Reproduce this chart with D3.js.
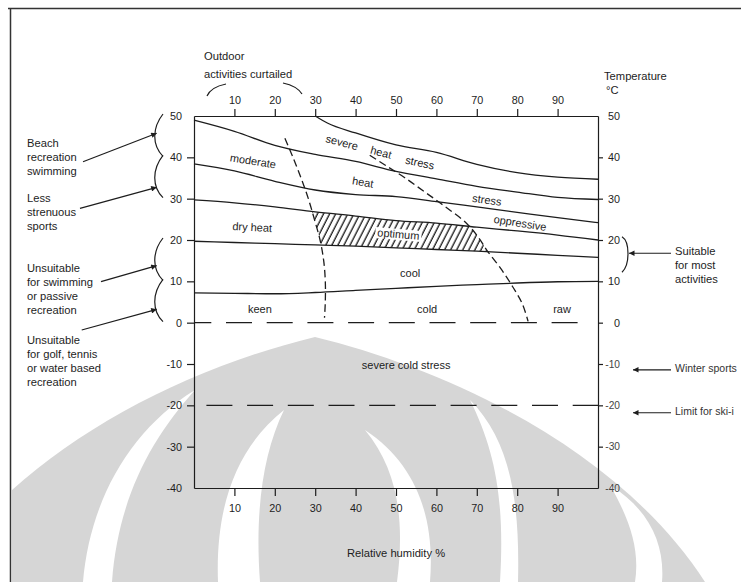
<!DOCTYPE html>
<html>
<head>
<meta charset="utf-8">
<script src="https://cdn.jsdelivr.net/npm/d3@7"></script>
<style>
  html, body { margin: 0; padding: 0; background: #fff; }
  svg { display: block; font-family: "Liberation Sans", Arial, Helvetica, sans-serif; }
</style>
</head>
<body>
<svg id="chart" width="741" height="582"></svg>
<script>
// Bioclimatic chart: relative humidity (%) against air temperature (°C)

const humidityTicks = [10, 20, 30, 40, 50, 60, 70, 80, 90];
const temperatureTicks = [-40, -30, -20, -10, 0, 10, 20, 30, 40, 50];

// Zone boundaries, each point is [relative humidity %, temperature °C]
const severeHeatLower = [[30, 50], [33, 48.3], [40, 45.9], [50, 43.0], [60, 41.2], [70, 38.3], [80, 36.3], [90, 35.2], [100, 34.7]];
const heatUpper = [[0, 49], [10, 46.3], [20, 42.9], [30, 40.7], [40, 39.0], [50, 36.6], [60, 34.8], [70, 33.0], [80, 31.6], [90, 30.3], [100, 29.8]];
const heatLower = [[0, 38.4], [10, 36.7], [20, 34.2], [30, 32.1], [40, 31.0], [50, 30.5], [60, 29.3], [70, 28.0], [80, 26.7], [90, 25.4], [100, 24.2]];
const optimumUpper = [[0, 29.7], [10, 29.0], [20, 28.0], [30, 26.8], [40, 25.8], [50, 24.7], [60, 24.1], [70, 23.1], [80, 22.2], [90, 21.2], [100, 20.0]];
const optimumLower = [[0, 19.7], [10, 19.4], [20, 19.1], [30, 18.8], [40, 18.5], [50, 18.1], [60, 17.7], [70, 17.3], [80, 16.8], [90, 16.3], [100, 15.8]];
const coldUpper = [[0, 7.2], [10, 7.1], [20, 7.0], [30, 7.3], [40, 7.8], [50, 8.3], [60, 8.8], [70, 9.2], [80, 9.6], [90, 9.9], [100, 10.0]];

// Dashed limits: outdoor activities curtailed (dry side) and discomfort (humid side)
const curtailedLimit = [[22.5, 44.6], [24.5, 40], [26.5, 35], [28.3, 30], [29.8, 25], [31.2, 20], [32.1, 15], [32.5, 10], [32.5, 5], [32.3, 1.2]];
const humidLimit = [[43.5, 40.5], [47.5, 38], [52, 35.2], [57, 31.7], [62, 28.2], [67.5, 24], [70.5, 20.5], [72.5, 17.5], [76, 13], [79, 8.5], [81.3, 4.5], [82.7, 0.3]];

// Horizontal dashed thresholds (°C)
const freezingLine = { t: 0, from: 0, to: 95.3 };
const skiLimitLine = { t: -20, from: 0, to: 100 };

// Zone names: [text, humidity %, temperature °C, rotation°]
const zoneLabels = [
  ["moderate", 14.6, 39.1, 9],
  ["heat", 41.8, 34.0, 9],
  ["severe", 36.6, 43.6, 15],
  ["heat", 46.3, 41.2, 15],
  ["stress", 55.9, 38.7, 12],
  ["dry heat", 14.4, 23.1, 3],
  ["stress", 72.5, 29.7, 8],
  ["oppressive", 80.7, 24.1, 9],
  ["cool", 53.5, 12.0, 0],
  ["keen", 16.3, 3.2, 0],
  ["cold", 57.7, 3.2, 0],
  ["raw", 91.1, 3.2, 0],
  ["severe cold stress", 52.5, -10.2, 0]
];
const optimumLabel = ["optimum", 50.6, 21.4, 5];

// Activity notes on the left, each bracketing a temperature range
const leftNotes = [
  { lines: ["Beach", "recreation", "swimming"], range: [50, 40] },
  { lines: ["Less", "strenuous", "sports"], range: [40, 30] },
  { lines: ["Unsuitable", "for swimming", "or passive", "recreation"], range: [20, 10] },
  { lines: ["Unsuitable", "for golf, tennis", "or  water based", "recreation"], range: [10, 0] }
];
// the last note runs off the page edge
const rightNotes = [
  { lines: ["Suitable", "for most", "activities"], t: 16.8 },
  { lines: ["Winter sports"], t: -11.4 },
  { lines: ["Limit for ski-i"], t: -21.8 }
];

const ink = "#1d1d1d";
const font = '"Liberation Sans", Arial, Helvetica, sans-serif';
const textSize = 11.2;

const x = d3.scaleLinear().domain([0, 100]).range([194, 598]);
const y = d3.scaleLinear().domain([-40, 50]).range([488, 116]);

const svg = d3.select("#chart");
const defs = svg.append("defs");

// ---- faint emblem in the background ----
const emblem = svg.append("g").attr("class", "emblem");
emblem.append("path")
  .attr("d", "M12,582 L12,490 C90,420 200,365 315,337 C450,370 620,450 705,582 Z")
  .attr("fill", "#d6d6d6");
[
  "M83,582 C90,500 130,430 195,390 C150,440 118,500 112,582 Z",
  "M218,582 C215,500 240,445 284,410 C262,455 255,515 260,582 Z",
  "M397,582 C405,520 398,470 365,430 C418,465 435,520 430,582 Z",
  "M500,582 C505,500 495,450 470,400 C510,440 520,500 518,582 Z",
  "M635,582 C640,550 630,520 610,485 C650,510 665,545 662,582 Z"
].forEach(d => emblem.append("path").attr("d", d).attr("fill", "#fff"));

// ---- page frame ----
svg.append("path").attr("d", "M8,8.5 H741").attr("stroke", "#333").attr("stroke-width", 1.5);
svg.append("path").attr("d", "M10.5,8 V582").attr("stroke", "#333").attr("stroke-width", 1.5);

// ---- axes ----
function styleAxis(g, size) {
  g.attr("font-family", font).attr("font-size", size || 10.8);
  g.selectAll("path, line").attr("stroke", ink).attr("stroke-width", 1.2);
  g.selectAll("text").attr("fill", ink);
}
const fmt = d => String(d);

const topAxis = svg.append("g").attr("transform", `translate(0,${y(50)})`)
  .call(d3.axisTop(x).tickValues(humidityTicks).tickSize(7).tickPadding(5).tickSizeOuter(0).tickFormat(fmt));
styleAxis(topAxis);

const bottomAxis = svg.append("g").attr("transform", `translate(0,${y(-40)})`)
  .call(d3.axisBottom(x).tickValues(humidityTicks).tickSize(8).tickPadding(8).tickSizeOuter(0).tickFormat(fmt));
styleAxis(bottomAxis);

const leftAxis = svg.append("g").attr("transform", `translate(${x(0)},0)`)
  .call(d3.axisLeft(y).tickValues(temperatureTicks).tickSize(7).tickPadding(5).tickSizeOuter(0).tickFormat(fmt));
styleAxis(leftAxis);
leftAxis.selectAll(".tick").filter(d => d === 50 || d === -40).select("line").remove();

const rightAxis = svg.append("g").attr("transform", `translate(${x(100)},0)`)
  .call(d3.axisRight(y).tickValues(temperatureTicks).tickSize(5).tickPadding(5).tickSizeOuter(0).tickFormat(fmt));
styleAxis(rightAxis);
rightAxis.selectAll(".tick").filter(d => d === 50 || d === -40).select("line").remove();
rightAxis.selectAll(".tick text").attr("x", 22).attr("text-anchor", "end");
rightAxis.selectAll(".tick").filter(d => d < 0).select("text").attr("fill", "#444").attr("font-size", 10.2);

// ---- zone boundaries ----
const smooth = d3.line().x(d => x(d[0])).y(d => y(d[1])).curve(d3.curveMonotoneX);
const bend = d3.line().x(d => x(d[0])).y(d => y(d[1])).curve(d3.curveCatmullRom.alpha(0.5));

// hatched optimum zone: between optimum bounds and inside both dashed limits
const hatch = defs.append("pattern").attr("id", "hatch")
  .attr("patternUnits", "userSpaceOnUse").attr("width", 5.4).attr("height", 10)
  .attr("patternTransform", "rotate(27)");
hatch.append("line").attr("x1", 2).attr("y1", 0).attr("x2", 2).attr("y2", 10)
  .attr("stroke", ink).attr("stroke-width", 1.35);

const band = d3.area().x(d => x(d[0])).y1(d => y(d[1])).curve(d3.curveMonotoneX);
const bandData = optimumUpper.map((d, i) => [d[0], d[1], optimumLower[i][1]]);
defs.append("clipPath").attr("id", "optimum-band").append("path")
  .attr("d", band.y0(d => y(d[2]))(bandData));
const between = bend(curtailedLimit) + bend(humidLimit.slice().reverse()).replace("M", "L") + "Z";
defs.append("clipPath").attr("id", "comfort-range").append("path").attr("d", between);

svg.append("g").attr("clip-path", "url(#optimum-band)")
  .append("g").attr("clip-path", "url(#comfort-range)")
  .append("rect").attr("x", x(0)).attr("y", y(50)).attr("width", x(100) - x(0)).attr("height", y(-40) - y(50))
  .attr("fill", "url(#hatch)");

const lines = svg.append("g").attr("fill", "none").attr("stroke", ink).attr("stroke-width", 1.3);
[severeHeatLower, heatUpper, heatLower, optimumUpper, optimumLower, coldUpper].forEach(b =>
  lines.append("path").attr("d", smooth(b)));

const dashed = svg.append("g").attr("fill", "none").attr("stroke", ink).attr("stroke-width", 1.3);
[curtailedLimit, humidLimit].forEach(b =>
  dashed.append("path").attr("d", bend(b)).attr("stroke-dasharray", "7.5,4"));

dashed.append("line")
  .attr("x1", x(freezingLine.from)).attr("x2", x(freezingLine.to))
  .attr("y1", y(freezingLine.t)).attr("y2", y(freezingLine.t))
  .attr("stroke-dasharray", "26,14.7").attr("stroke-dashoffset", 8.7);
dashed.append("line")
  .attr("x1", x(skiLimitLine.from)).attr("x2", x(skiLimitLine.to))
  .attr("y1", y(skiLimitLine.t)).attr("y2", y(skiLimitLine.t))
  .attr("stroke-dasharray", "26,14.7").attr("stroke-dashoffset", 28.3);

// ---- zone names ----
const labels = svg.append("g").attr("font-family", font).attr("font-size", 11).attr("fill", ink);
zoneLabels.forEach(([text, h, t, rot]) => {
  labels.append("text")
    .attr("transform", `translate(${x(h)},${y(t)}) rotate(${rot})`)
    .attr("text-anchor", "middle").attr("dy", "0.35em").text(text);
});
{
  const [text, h, t, rot] = optimumLabel;
  const g = labels.append("g").attr("transform", `translate(${x(h)},${y(t)}) rotate(${rot})`);
  const box = g.append("rect").attr("fill", "#fff");
  const tx = g.append("text").attr("text-anchor", "middle").attr("dy", "0.35em").text(text);
  const bb = tx.node().getBBox();
  box.attr("x", bb.x - 2).attr("y", bb.y + 1).attr("width", bb.width + 4).attr("height", bb.height - 1);
}

// ---- axis titles ----
const titles = svg.append("g").attr("font-family", font).attr("font-size", textSize).attr("fill", ink);
titles.append("text").attr("x", 204).attr("y", 60).text("Outdoor");
titles.append("text").attr("x", 204).attr("y", 78).text("activities curtailed");
titles.append("text").attr("x", 604).attr("y", 80).text("Temperature");
titles.append("text").attr("x", 606).attr("y", 94).text("°C");
titles.append("text").attr("x", x(50)).attr("y", 557).attr("text-anchor", "middle").text("Relative humidity %");

const curls = svg.append("g").attr("fill", "none").attr("stroke", ink).attr("stroke-width", 1.2);
curls.append("path").attr("d", "M207,96 Q211,87 226,84");
curls.append("path").attr("d", "M283,83 Q297,86 302,94");

// ---- arrows and brackets ----
const head = defs.append("marker").attr("id", "head")
  .attr("viewBox", "0 0 10 10").attr("refX", 10).attr("refY", 5)
  .attr("markerWidth", 9).attr("markerHeight", 5.5).attr("markerUnits", "userSpaceOnUse")
  .attr("orient", "auto");
head.append("path").attr("d", "M0,0 L10,5 L0,10 Z").attr("fill", ink);

const notes = svg.append("g").attr("font-family", font).attr("font-size", textSize).attr("fill", ink);
const arrowStarts = [[83, 161.7], [80, 208.3], [101, 281.7], [81.7, 330]];
const arrowTips = [[156.7, 133.3], [156.7, 187.3], [156.7, 265.7], [156.7, 309.3]];
const noteTops = [146.5, 202, 272, 344];
leftNotes.forEach((n, i) => {
  const txt = notes.append("text").attr("x", 27).attr("y", noteTops[i]);
  n.lines.forEach((l, k) => txt.append("tspan").attr("x", 27).attr("dy", k ? 14 : 0).text(l));
  const [a, b] = n.range;
  curls.append("path").attr("d",
    `M163,${y(a) - 2} C152,${y(a) + 12} 152,${y(b) - 12} 163,${y(b) - 1}`);
  curls.append("line")
    .attr("x1", arrowStarts[i][0]).attr("y1", arrowStarts[i][1])
    .attr("x2", arrowTips[i][0]).attr("y2", arrowTips[i][1])
    .attr("marker-end", "url(#head)");
});

curls.append("path").attr("d", `M622,${y(20.8)} C630,${y(19.6)} 630,${y(14)} 622,${y(12.2)}`);
rightNotes.forEach((n, i) => {
  const yy = y(n.t);
  const txt = notes.append("text").attr("x", 675).attr("y", yy + 2)
    .attr("font-size", i === 0 ? textSize : 10.5).attr("fill", i === 0 ? ink : "#333");
  n.lines.forEach((l, k) => txt.append("tspan").attr("x", 675).attr("dy", k ? 14 : 0).text(l));
  curls.append("line")
    .attr("x1", 671).attr("y1", yy).attr("x2", i === 0 ? 629 : 633).attr("y2", yy)
    .attr("marker-end", "url(#head)");
});
</script>
</body>
</html>
